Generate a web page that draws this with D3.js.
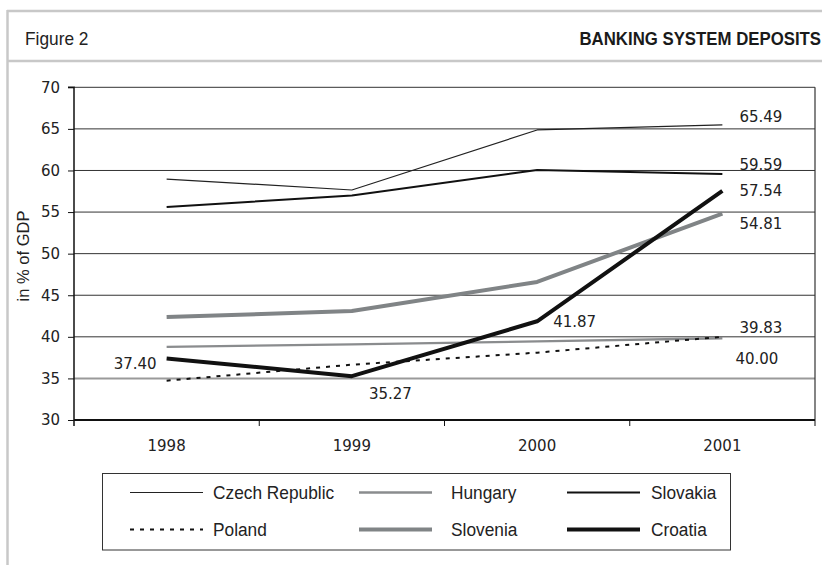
<!DOCTYPE html>
<html><head><meta charset="utf-8">
<script src="https://cdn.jsdelivr.net/npm/d3@7/dist/d3.min.js"></script>
<style>
html,body{margin:0;padding:0;background:#fff;}
svg{display:block;}
.reg{font-family:"Liberation Sans",Arial,sans-serif;}
.num{font-family:"DejaVu Sans",Verdana,sans-serif;}
</style></head>
<body>
<svg id="chart" width="822" height="565"></svg>
<script>
const years = ["1998", "1999", "2000", "2001"];
const yTicks = [30, 35, 40, 45, 50, 55, 60, 65, 70];
const czech    = [58.97, 57.65, 64.87, 65.49];
const hungary  = [38.78, 39.10, 39.45, 39.83];
const slovakia = [55.60, 57.00, 60.06, 59.59];
const poland   = [34.73, 36.65, 38.10, 40.00];
const slovenia = [42.38, 43.10, 46.60, 54.81];
const croatia  = [37.40, 35.27, 41.87, 57.54];
const seriesNames = ["Czech Republic", "Hungary", "Slovakia", "Poland", "Slovenia", "Croatia"];
const seriesValues = [czech, hungary, slovakia, poland, slovenia, croatia];
const title = "BANKING SYSTEM DEPOSITS";
const figLabel = "Figure 2";
const yTitle = "in % of GDP";

// styles per series
const styles = {
  "Czech Republic": {color:"#222", width:1.2, dash:null},
  "Hungary":        {color:"#8a8c8e", width:2.3, dash:null},
  "Slovakia":       {color:"#111", width:2, dash:null},
  "Poland":         {color:"#111", width:2, dash:"4,6"},
  "Slovenia":       {color:"#808486", width:4, dash:null},
  "Croatia":        {color:"#111", width:4, dash:null}
};
// value labels: [series index, year index, dx, dy, anchor]
const labelSpec = [
  [0, 3, 17, -3, "start"],
  [2, 3, 17, -4, "start"],
  [5, 3, 17, 5, "start"],
  [4, 3, 17, 15.6, "start"],
  [1, 3, 17, -5.5, "start"],
  [3, 3, 13, 27, "start"],
  [5, 2, 16, 5.5, "start"],
  [5, 0, -10, 11, "end"],
  [5, 1, 17, 23, "start"]
];

const svg = d3.select("#chart");

// outer frame
const frameColor = "#c8c8c8";
svg.append("line").attr("x1",7).attr("x2",822).attr("y1",11).attr("y2",11).attr("stroke",frameColor).attr("stroke-width",2.5);
svg.append("line").attr("x1",7).attr("x2",822).attr("y1",61).attr("y2",61).attr("stroke",frameColor).attr("stroke-width",2.5);
svg.append("line").attr("x1",7.5).attr("x2",7.5).attr("y1",10).attr("y2",565).attr("stroke",frameColor).attr("stroke-width",2.5);

svg.append("text").attr("class","reg").attr("transform","translate(25,45) scale(1,1.1)")
  .attr("font-size",17.3).attr("fill","#222").text(figLabel);
svg.append("text").attr("class","reg").attr("transform","translate(821,44.5) scale(1,1.1)")
  .attr("text-anchor","end").attr("font-size",16.8).attr("font-weight","bold").attr("fill","#1a1a1a").text(title);

// scales
const pL = 74, pR = 815, pT = 87.3, pB = 420;
const x = d3.scaleBand().domain(years).range([pL, pR]).padding(0);
const y = d3.scaleLinear().domain([30, 70]).range([pB, pT]);
const cx = d => x(d) + x.bandwidth()/2;

// gridlines
const g = svg.append("g");
g.selectAll("line.grid").data(yTicks.filter(t => t !== 30)).enter().append("line")
  .attr("x1", pL).attr("x2", pR)
  .attr("y1", d => y(d)).attr("y2", d => y(d))
  .attr("stroke", d => d === 35 ? "#9a9a9a" : "#333")
  .attr("stroke-width", d => d === 35 ? 2 : 1);
// right border
g.append("line").attr("x1",pR).attr("x2",pR).attr("y1",pT).attr("y2",pB+6).attr("stroke","#333").attr("stroke-width",1.2);

// y axis
const yAxis = d3.axisLeft(y).tickValues(yTicks).tickSize(6).tickPadding(8).tickFormat(d3.format("d"));
const ya = svg.append("g").attr("transform", `translate(${pL},0)`).call(yAxis);
ya.select(".domain").attr("stroke","#111").attr("stroke-width",1.5).attr("d", `M-6,${pT}H0V${pB+6}`);
ya.selectAll(".tick line").attr("stroke","#111").attr("stroke-width",1);
ya.selectAll(".tick text").attr("font-size",15).attr("fill","#222").attr("font-family","DejaVu Sans");

// x axis
const xa = svg.append("g").attr("transform", `translate(0,${pB})`);
xa.append("line").attr("x1",pL).attr("x2",pR).attr("y1",0).attr("y2",0).attr("stroke","#111").attr("stroke-width",2.2);
const bounds = years.slice(1).map(yr => x(yr));
xa.selectAll("line.tk").data(bounds).enter().append("line").attr("class","tk")
  .attr("x1", d => d).attr("x2", d => d).attr("y1", 0).attr("y2", 6).attr("stroke","#111").attr("stroke-width",1);
xa.selectAll("text.xl").data(years).enter().append("text")
  .attr("class","num xl").attr("x", d => cx(d)).attr("y", 31).attr("text-anchor","middle")
  .attr("font-size",15).attr("fill","#222").text(d => d);

// y title
svg.append("text").attr("class","reg").attr("transform","translate(29,256) rotate(-90)")
  .attr("text-anchor","middle").attr("font-size",16.5).attr("fill","#222").text(yTitle);

// lines
const line = d3.line().x((d,i) => cx(years[i])).y(d => y(d));
const drawOrder = [1, 3, 0, 2, 4, 5];
drawOrder.forEach(si => {
  const st = styles[seriesNames[si]];
  svg.append("path").datum(seriesValues[si]).attr("d", line)
    .attr("fill","none").attr("stroke", st.color).attr("stroke-width", st.width)
    .attr("stroke-dasharray", st.dash).attr("stroke-linejoin","round");
});

// value labels
svg.selectAll("text.val").data(labelSpec).enter().append("text").attr("class","num val")
  .attr("x", d => cx(years[d[1]]) + d[2])
  .attr("y", d => y(seriesValues[d[0]][d[1]]) + d[3])
  .attr("text-anchor", d => d[4])
  .attr("font-size",15).attr("fill","#222")
  .text(d => seriesValues[d[0]][d[1]].toFixed(2));

// legend
const lg = svg.append("g");
lg.append("rect").attr("x",102.5).attr("y",473.5).attr("width",628).attr("height",76.5)
  .attr("fill","#fff").attr("stroke","#333").attr("stroke-width",1);
const colX = [130, 359, 567];
const rowY = [492.5, 529.5];
seriesNames.forEach((name, k) => {
  const col = k % 3, row = Math.floor(k / 3);
  const st = styles[name];
  const x0 = colX[col], yy = rowY[row];
  lg.append("line").attr("x1", x0).attr("x2", x0 + 73).attr("y1", yy).attr("y2", yy)
    .attr("stroke", st.color).attr("stroke-width", st.width).attr("stroke-dasharray", st.dash);
  lg.append("text").attr("class", "reg")
    .attr("transform", `translate(${x0 + (col === 0 ? 83 : (col === 1 ? 92 : 84))},${yy + 6.5}) scale(1,1.08)`)
    .attr("font-size", 17.3).attr("fill","#222").text(name);
});
</script>
</body></html>
